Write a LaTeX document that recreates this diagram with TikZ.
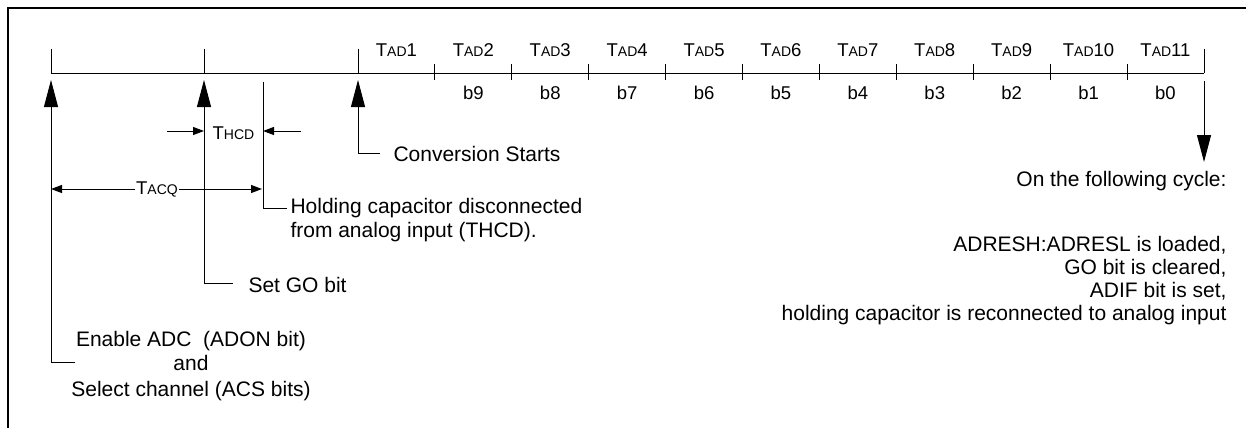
\documentclass[tikz,border=0pt]{standalone}
\usepackage{fontspec}
\setmainfont{Liberation Sans}
\usetikzlibrary{arrows.meta}
\newcommand{\sm}[1]{{\fontsize{14}{14}\selectfont #1}}
\begin{document}
\begin{tikzpicture}[x=1pt,y=-1pt,line width=1pt,
  lbl/.style={font=\fontsize{18.5}{20}\selectfont,inner sep=0pt,anchor=base},
  txt/.style={font=\fontsize{21}{23}\selectfont,inner sep=0pt},
  bigarrow/.style={-{Triangle[width=14pt,length=27pt]}},
  smallarrow/.style={-{Triangle[width=8pt,length=11pt]}},
  dblarrow/.style={{Triangle[width=8pt,length=11pt]}-{Triangle[width=8pt,length=11pt]}}]
\useasboundingbox (0,0) rectangle (1246,428);
% frame
\draw[line width=2pt] (8,428) -- (8,8) -- (1246,8);
% timeline
\coordinate (tlL) at (51,73);
\coordinate (tlR) at (1204,73);
\draw (tlL) -- (tlR);
\foreach \x in {51,204,358,1204} \draw (\x,49) -- (\x,73);
\foreach \i in {1,...,10} \draw ({358+\i*76.9},64) -- ({358+\i*76.9},80);
\foreach \i in {1,...,11} \node[lbl] (tad\i) at ({358+(\i-0.5)*76.9},56.5) {T\sm{AD}\i};
\foreach \i in {2,...,11} {
  \pgfmathtruncatemacro\bb{11-\i}
  \node[lbl] (b\i) at ({358+(\i-0.5)*76.9},99.3) {b\bb};
}
% enable ADC arrow
\coordinate (enTip) at (51,80);
\coordinate (enCorner) at (51,362);
\coordinate (enEnd) at (75,362);
\draw[bigarrow] (enEnd) -- (enCorner) -- (enTip);
\node[txt,anchor=base] (en1) at (191,346) {Enable ADC\ \ (ADON bit)};
\node[txt,anchor=base] (en2) at (191,370) {and};
\node[txt,anchor=base] (en3) at (191,396) {Select channel (ACS bits)};
% set GO arrow
\coordinate (goTip) at (204,80);
\coordinate (goCorner) at (204,283);
\coordinate (goEnd) at (233,283);
\draw[bigarrow] (goEnd) -- (goCorner) -- (goTip);
\node[txt,anchor=base west] (go) at (248,292) {Set GO bit};
% conversion starts arrow
\coordinate (cvTip) at (358,80);
\coordinate (cvCorner) at (358,153);
\coordinate (cvEnd) at (380,153);
\draw[bigarrow] (cvEnd) -- (cvCorner) -- (cvTip);
\node[txt,anchor=base west] (cv) at (393,161) {Conversion Starts};
% holding capacitor line
\coordinate (hcTop) at (263,82);
\coordinate (hcCorner) at (263,208);
\coordinate (hcEnd) at (287,208);
\draw (hcTop) -- (hcCorner) -- (hcEnd);
\node[txt,anchor=base west] (hc1) at (290,213) {Holding capacitor disconnected};
\node[txt,anchor=base west] (hc2) at (290,237.5) {from analog input (THCD).};
% THCD
\node[lbl] (thcd) at (233.5,139) {T\sm{HCD}};
\coordinate (thcdL) at (167,131);
\coordinate (thcdLt) at (204,131);
\coordinate (thcdR) at (301,131);
\coordinate (thcdRt) at (263,131);
\draw[smallarrow] (thcdL) -- (thcdLt);
\draw[smallarrow] (thcdR) -- (thcdRt);
% TACQ
\coordinate (acqL) at (51,189);
\coordinate (acqR) at (262,189);
\draw[dblarrow] (acqL) -- (acqR);
\node[lbl,fill=white,inner xsep=1pt] (tacq) at (157,194) {T\sm{ACQ}};
% end arrow
\coordinate (endTop) at (1204,81);
\coordinate (endTip) at (1204,162);
\draw[bigarrow] (endTop) -- (endTip);
\node[txt,anchor=base east] (r1) at (1227,186) {On the following cycle:};
\node[txt,anchor=base east] (r2) at (1227,251) {ADRESH:ADRESL is loaded,};
\node[txt,anchor=base east] (r3) at (1227,274) {GO bit is cleared,};
\node[txt,anchor=base east] (r4) at (1227,297) {ADIF bit is set,};
\node[txt,anchor=base east] (r5) at (1227,320) {holding capacitor is reconnected to analog input};
\end{tikzpicture}
\end{document}
